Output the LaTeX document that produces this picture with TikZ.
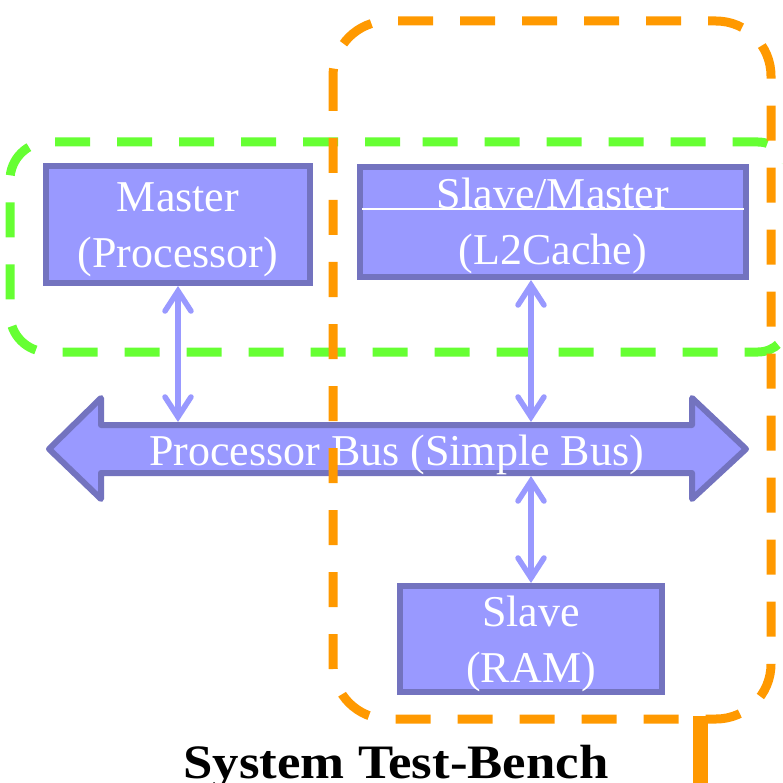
\documentclass[tikz,border=0pt]{standalone}
\usepackage{fontspec}
\setmainfont{Liberation Serif}
\usetikzlibrary{arrows.meta}
\definecolor{boxfill}{HTML}{9999FF}
\definecolor{boxline}{HTML}{7373BF}
\definecolor{linkblue}{HTML}{9999FF}
\definecolor{grpgreen}{HTML}{66FF33}
\definecolor{grporange}{HTML}{FF9900}
\begin{document}
\begin{tikzpicture}[x=1pt,y=-1pt,
  unit/.style={draw=boxline, fill=boxfill, line width=6pt, inner sep=0pt},
  unittext/.style={text=white, font=\fontsize{44}{52}\selectfont, anchor=base, inner sep=0pt},
  link/.style={draw=linkblue, line width=5.5pt, line cap=round,
    {Straight Barb[length=20pt, width=26pt, line cap=round]}-{Straight Barb[length=20pt, width=26pt, line cap=round]}},
  grpline/.style={line width=9pt, dash pattern=on 35pt off 27pt}]
\useasboundingbox (0,0) rectangle (782,783);
\clip (0,0) rectangle (782,783);

% processor-side group
\draw[grpline, grpgreen] (400,142) [rounded corners=38pt] -- (10,142) -- (10,352) -- (400,352)
  [rounded corners=30pt] -- (788,352) -- (788,142) -- (400,142);

% bus units
\node[unit, minimum width=264pt, minimum height=117pt] (master) at (178,224.5) {};
\node[unittext] (masterA) at (178,212) {Master};
\node[unittext] (masterB) at (178,268) {(Processor)};

\node[unit, minimum width=386pt, minimum height=110pt] (cache) at (553,222) {};
\draw[white, line width=1.2pt] (362,209) -- (744,209);
\node[unittext] (cacheA) at (553,209) {Slave/Master};
\node[unittext] (cacheB) at (553,265) {(L2Cache)};

\node[unit, minimum width=262pt, minimum height=106pt] (ram) at (531,639) {};
\node[unittext] (ramA) at (531,626) {Slave};
\node[unittext] (ramB) at (531,682) {(RAM)};

% the shared bus
\draw[draw=boxline, fill=boxfill, line width=6pt, line join=round]
  (49,449) -- (101,398) -- (101,425) -- (692,425) -- (692,398) -- (746,449)
  -- (692,499) -- (692,473) -- (101,473) -- (101,499) -- cycle;
\node[inner sep=0pt, outer sep=0pt, minimum width=597pt, minimum height=54pt] (bus) at (396.5,449) {};
\node[unittext] (busT) at (396.5,465) {Processor Bus (Simple Bus)};

% bus connections
\draw[link] (master.south) -- (master.south |- bus.north);
\draw[link] (ram.north |- cache.south) -- (ram.north |- bus.north);
\draw[link] (ram.north |- bus.south) -- (ram.north);

% test-bench group
\draw[grpline, grporange, rounded corners=55pt] (333,21) rectangle (771,719);
\draw[grporange, line width=15pt] (700,716) -- (700,790);

\node[anchor=base, inner sep=0pt, font=\fontsize{48}{56}\selectfont\bfseries] (title) at (396,778) {\scalebox{1.1}[1]{System Test-Bench}};
\end{tikzpicture}
\end{document}
